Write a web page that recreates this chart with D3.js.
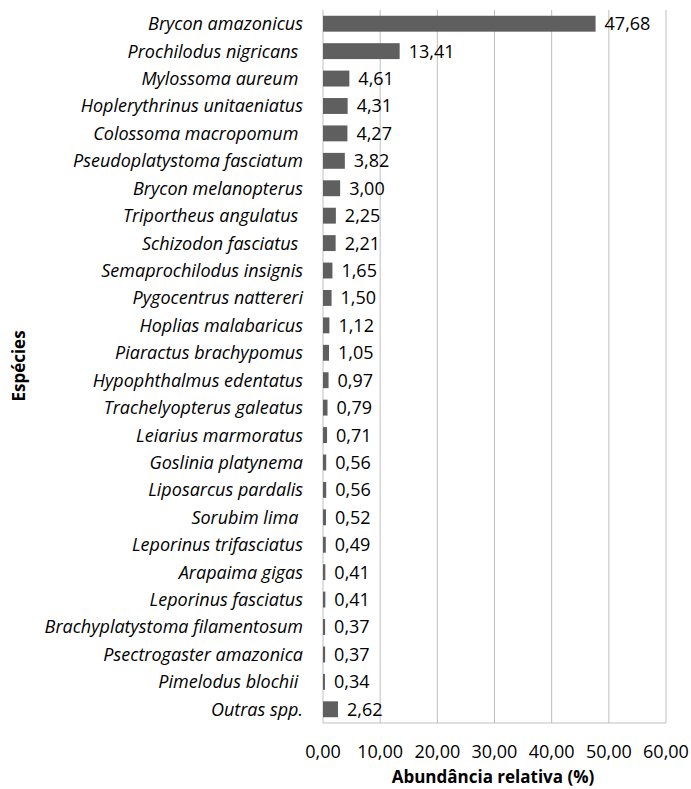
<!doctype html>
<html>
<head>
<meta charset="utf-8"/>
<title>Abundância relativa</title>
<script src="https://d3js.org/d3.v7.min.js"></script>
<style>
body { margin: 0; background: #fff; }
text { font-family: "Open Sans", sans-serif; fill: #000; white-space: pre; }
</style>
</head>
<body>
<script type="text/javascript">
var especies = ["Brycon amazonicus", "Prochilodus nigricans ", "Mylossoma aureum ", "Hoplerythrinus unitaeniatus",
  "Colossoma macropomum ", "Pseudoplatystoma fasciatum", "Brycon melanopterus", "Triportheus angulatus ",
  "Schizodon fasciatus ", "Semaprochilodus insignis", "Pygocentrus nattereri", "Hoplias malabaricus",
  "Piaractus brachypomus", "Hypophthalmus edentatus", "Trachelyopterus galeatus", "Leiarius marmoratus",
  "Goslinia platynema", "Liposarcus pardalis", "Sorubim lima ", "Leporinus trifasciatus", "Arapaima gigas",
  "Leporinus fasciatus", "Brachyplatystoma filamentosum", "Psectrogaster amazonica", "Pimelodus blochii ",
  "Outras spp."];
var abundancia = [47.68, 13.41, 4.61, 4.31, 4.27, 3.82, 3.00, 2.25, 2.21, 1.65, 1.50, 1.12, 1.05, 0.97,
  0.79, 0.71, 0.56, 0.56, 0.52, 0.49, 0.41, 0.41, 0.37, 0.37, 0.34, 2.62];
var ticks = [0, 10, 20, 30, 40, 50, 60];

var W = 691, H = 789;
var svg = d3.select("body").append("svg").attr("width", W).attr("height", H);

var x = d3.scaleLinear().domain([0, 60]).range([323, 666]);
var y = d3.scaleBand().domain(especies).range([10, 723]).paddingInner(0.42).paddingOuter(0.21);

var fmt = function(v) { return d3.format(".2f")(v).replace(".", ","); };

// grade vertical
svg.selectAll("line.grid")
  .data(ticks)
  .enter().append("line")
  .attr("class", "grid")
  .attr("x1", d => x(d)).attr("x2", d => x(d))
  .attr("y1", 10).attr("y2", 723)
  .attr("stroke", "#bfbfbf").attr("stroke-width", 1);

svg.append("line")
  .attr("x1", x(0)).attr("x2", x(60))
  .attr("y1", 723).attr("y2", 723)
  .attr("stroke", "#bfbfbf").attr("stroke-width", 1);

// barras
svg.selectAll("rect.bar")
  .data(abundancia)
  .enter().append("rect")
  .attr("class", "bar")
  .attr("x", x(0))
  .attr("y", (d, i) => y(especies[i]))
  .attr("width", d => x(d) - x(0))
  .attr("height", y.bandwidth())
  .attr("fill", "#5f5f5f");

// valores
svg.selectAll("text.val")
  .data(abundancia)
  .enter().append("text")
  .attr("class", "val")
  .attr("x", d => x(d) + 9)
  .attr("y", (d, i) => y(especies[i]) + y.bandwidth() / 2)
  .attr("dy", "0.36em")
  .style("font-size", "18px")
  .text(d => fmt(d));

// nomes das especies
svg.selectAll("text.esp")
  .data(especies)
  .enter().append("text")
  .attr("class", "esp")
  .attr("x", 303)
  .attr("y", d => y(d) + y.bandwidth() / 2)
  .attr("dy", "0.36em")
  .attr("text-anchor", "end")
  .style("font-size", "18px")
  .style("font-style", "italic")
  .text(d => d);

// eixo x
svg.selectAll("text.tick")
  .data(ticks)
  .enter().append("text")
  .attr("class", "tick")
  .attr("x", d => x(d))
  .attr("y", 758)
  .attr("text-anchor", "middle")
  .style("font-size", "18px")
  .text(d => fmt(d));

svg.append("text")
  .attr("x", 493).attr("y", 783)
  .attr("text-anchor", "middle")
  .style("font-size", "17px")
  .style("font-weight", "bold")
  .text("Abundância relativa (%)");

svg.append("text")
  .attr("transform", "translate(25,366) rotate(-90)")
  .attr("text-anchor", "middle")
  .style("font-size", "17px")
  .style("font-weight", "bold")
  .text("Espécies");
</script>
</body>
</html>
